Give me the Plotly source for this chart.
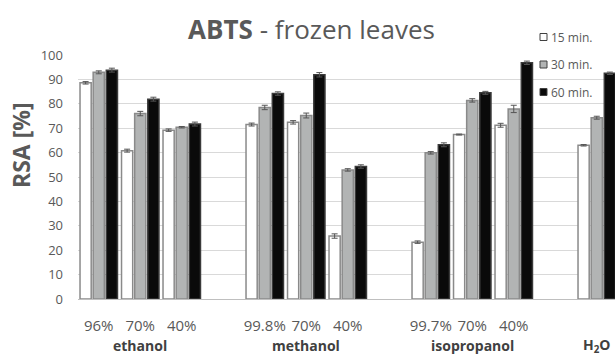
import plotly.graph_objects as go

# ---- data ----
solvents = ["ethanol", "methanol", "isopropanol", "H<sub>2</sub>O"]
concentrations = [["96%", "70%", "40%"], ["99.8%", "70%", "40%"], ["99.7%", "70%", "40%"], [""]]
series_names = ["15 min.", "30 min.", "60 min."]

rsa_15 = [88.6, 60.8, 69.2, 71.5, 72.4, 25.8, 23.3, 67.4, 71.2, 63.0]
rsa_30 = [92.9, 76.0, 70.4, 78.5, 75.2, 52.9, 59.9, 81.4, 77.9, 74.3]
rsa_60 = [93.8, 81.9, 71.7, 84.2, 91.9, 54.3, 63.2, 84.5, 96.8, 92.5]

err_15 = [0.5, 0.6, 0.5, 0.6, 0.7, 0.9, 0.5, 0.2, 0.8, 0.3]
err_30 = [0.6, 0.9, 0.3, 0.9, 1.0, 0.5, 0.5, 0.7, 1.5, 0.6]
err_60 = [0.8, 0.8, 0.8, 0.7, 0.9, 0.7, 0.8, 0.6, 0.7, 0.5]

# ---- build category slots (one empty slot between solvents) ----
xs, tickvals, ticktext, group_centers = [], [], [], []
slot = 0
for conc in concentrations:
    start = slot
    for c in conc:
        xs.append(slot)
        if c:
            tickvals.append(slot)
            ticktext.append(c)
        slot += 1
    group_centers.append((start + slot - 1) / 2)
    slot += 1

TXT = "#595959"
FONT = "Open Sans"

fills = ["#ffffff", "#b2b4b4", "#0a0a0a"]
lines = ["#8a8a8a", "#8a8a8a", "#3a3a3a"]
values = [rsa_15, rsa_30, rsa_60]
errors = [err_15, err_30, err_60]

W, H = 615, 356
L, T, B = 78, 55, 57
PW, PH = W - L, H - T - B


def px(xp):
    return (xp - L) / PW


def py(yp):
    return (H - B - yp) / PH


fig = go.Figure()
for i in range(3):
    fig.add_trace(go.Bar(
        x=xs, y=values[i], name=series_names[i], showlegend=False,
        marker=dict(color=fills[i], line=dict(color=lines[i], width=1.5)),
        error_y=dict(type="data", array=errors[i], visible=True,
                     color="#555555", thickness=1, width=3),
    ))

# legend drawn as swatch + label (Excel style: small box right before text)
for i, name in enumerate(series_names):
    yc = 37 + 27.5 * i
    fig.add_shape(type="rect", xref="paper", yref="paper",
                  x0=px(540), x1=px(547), y0=py(yc + 3.5), y1=py(yc - 3.5),
                  fillcolor=fills[i], line=dict(color="#404040", width=1))
    fig.add_annotation(x=px(549), xref="paper", y=py(yc), yref="paper",
                       text=name, showarrow=False, xanchor="left", yanchor="middle",
                       font=dict(family=FONT, size=12, color=TXT))

# solvent names
for name, cx in zip(solvents, group_centers):
    fig.add_annotation(x=cx, xref="x", y=py(345.5), yref="paper",
                       text=f"<b>{name}</b>", showarrow=False,
                       font=dict(family=FONT, size=14, color="#404040"),
                       yanchor="middle", xanchor="center")

# y axis title
fig.add_annotation(x=px(21), xref="paper", y=py(145), yref="paper",
                   text="<b>RSA [%]</b>", textangle=-90, showarrow=False,
                   font=dict(family=FONT, size=23, color=TXT),
                   xanchor="center", yanchor="middle")

fig.update_layout(
    width=W, height=H,
    margin=dict(l=L, r=0, t=T, b=B, autoexpand=False),
    paper_bgcolor="white", plot_bgcolor="white",
    barmode="group", bargap=0.05, bargroupgap=0.15,
    title=dict(text="<b>ABTS</b> - frozen leaves", x=311.5 / W, xanchor="center",
               y=1 - 30 / H, yanchor="middle",
               font=dict(family=FONT, size=26, color=TXT)),
    font=dict(family=FONT, color=TXT),
    showlegend=False,
)
fig.update_xaxes(range=[-0.5, -0.5 + PW / 41.5], tickmode="array",
                 tickvals=tickvals, ticktext=ticktext, showgrid=False,
                 tickfont=dict(family=FONT, size=15, color=TXT),
                 ticks="", ticklabelstandoff=13, showline=True,
                 linecolor="#bfbfbf", linewidth=1, zeroline=False)
fig.update_yaxes(range=[0, 100], dtick=10, showgrid=True, gridcolor="#d9d9d9",
                 gridwidth=1, zeroline=False, showline=False,
                 tickfont=dict(family=FONT, size=13, color=TXT),
                 ticklabelstandoff=14)

fig.write_html("out.html", config={"displayModeBar": False},
               post_script="document.body.style.margin='0';")
